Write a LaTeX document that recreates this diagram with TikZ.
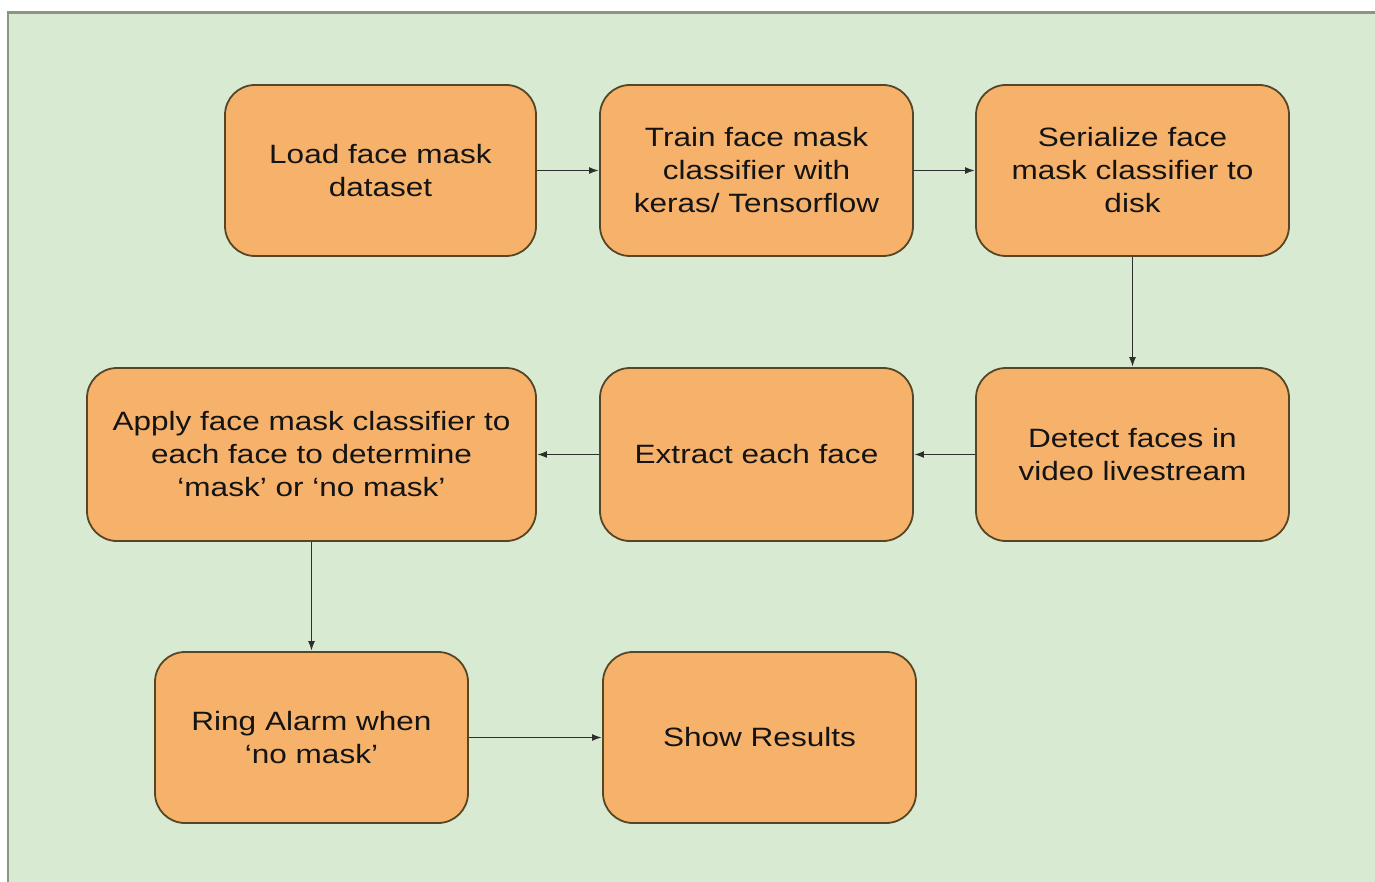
\documentclass[tikz,border=0pt]{standalone}
\usepackage{fontspec}
\setmainfont{Liberation Sans}[FakeStretch=1.19]
\usepackage{tikz}
\usetikzlibrary{arrows.meta}
\usetikzlibrary{calc}
\definecolor{bggreen}{HTML}{D9EAD3}
\definecolor{boxorange}{HTML}{F6B26B}
\definecolor{boxedge}{HTML}{574626}
\definecolor{frameline}{HTML}{8C9484}

\begin{document}
\begin{tikzpicture}[
    x=1pt, y=-1pt,
    stepbox/.style={draw=boxedge, fill=boxorange, line width=1.8pt, rounded corners=30pt,
        minimum width=313pt, minimum height=171pt, align=center, text=black!92,
        font=\fontsize{26.5}{33}\selectfont},
    link/.style={-{Latex[length=10pt,width=7pt]}, line width=1.8pt, color=black!82},
    every node/.style={inner sep=0pt}
    ]

    % page and frame
    \useasboundingbox (0,0) rectangle (1375,882);
    \fill[bggreen] (8,12) rectangle (1375,882);
    \draw[frameline, line width=3pt] (7,12.5) -- (1375,12.5);
    \draw[frameline, line width=2pt] (8,12) -- (8,882);
    % first row
    \node[stepbox, minimum width=311pt] (load) at (380.5,170.5) {Load face mask\\dataset};
    \node[stepbox] (train) at (756.5,170.5) {Train face mask\\classifier with\\keras/ Tensorflow};
    \node[stepbox] (serialize) at (1132.5,170.5) {Serialize face\\mask classifier to\\disk};
    % second row
    \node[stepbox, minimum height=173pt] (detect) at (1132.5,454.5) {Detect faces in\\video livestream};
    \node[stepbox, minimum height=173pt] (extract) at (756.5,454.5) {Extract each face};
    \node[stepbox, minimum width=449pt, minimum height=173pt] (apply) at (311.5,454.5) {Apply face mask classifier to\\each face to determine\\‘mask’ or ‘no mask’};
    % third row
    \node[stepbox] (ring) at (311.5,737.5) {Ring Alarm when\\‘no mask’};
    \node[stepbox] (show) at (759.5,737.5) {Show Results};
    % links
    \draw[link] (load) -- (train);
    \draw[link] (train) -- (serialize);
    \draw[link] (serialize) -- (detect);
    \draw[link] (detect) -- (extract);
    \draw[link] (extract) -- (apply);
    \draw[link] (apply) -- (ring);
    \draw[link] (ring) -- (show);
\end{tikzpicture}
\end{document}
